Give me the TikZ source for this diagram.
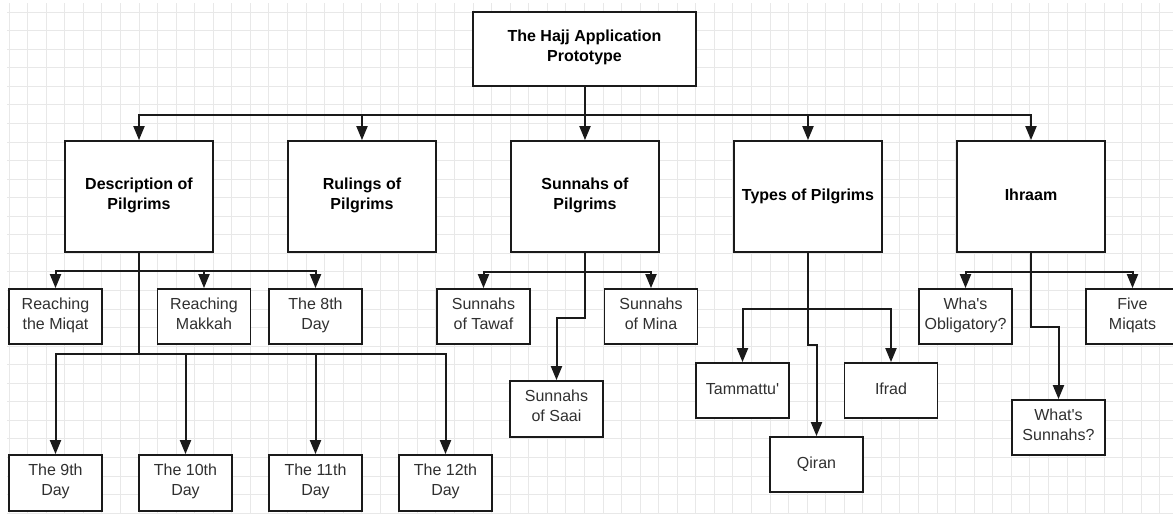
\documentclass[tikz,border=0pt]{standalone}
\usepackage{fontspec}
\setmainfont{Liberation Sans}
\newfontfamily\lib{Liberation Sans}
\usetikzlibrary{arrows.meta}
\definecolor{ink}{HTML}{1A1A1A}
\definecolor{txt}{HTML}{303030}
\definecolor{gridc}{HTML}{E8E8E8}
\begin{document}
\begin{tikzpicture}[x=1pt,y=-1pt,
  gridline/.style={draw=gridc,line width=0.8pt},
  boxbase/.style={draw=ink,line width=1.8pt,fill=white,inner sep=0pt,align=center,
    font=\lib\fontsize{16}{20}\selectfont,
    execute at begin node=\strut, execute at end node=\strut},
  bigbox/.style={boxbase,minimum width=148pt,minimum height=111pt,font=\lib\fontsize{16}{20}\selectfont\bfseries,text=black},
  rootbox/.style={boxbase,minimum width=223pt,minimum height=74pt,font=\lib\fontsize{16}{20}\selectfont\bfseries,text=black},
  smallbox/.style={boxbase,minimum width=93pt,minimum height=55pt,text=txt},
  conn/.style={draw=ink,line width=2pt},
  arr/.style={conn,-{Triangle[width=11pt,length=14pt]}}
]
\useasboundingbox (0,0) rectangle (1173,517);
\fill[white] (0,0) rectangle (1173,517);
% background grid
\foreach \i in {0,...,62} \draw[gridline] ({9+18.56*\i},3) -- ({9+18.56*\i},514);
\foreach \j in {0,...,27} \draw[gridline] (7,{12+18.56*\j}) -- (1173,{12+18.56*\j});

% nodes
\node[rootbox] (root) at (584.5,49) {The Hajj Application\\Prototype};
\node[bigbox] (desc) at (139,196.5) {Description of\\Pilgrims};
\node[bigbox] (rul) at (362,196.5) {Rulings of\\Pilgrims};
\node[bigbox] (sun) at (585,196.5) {Sunnahs of\\Pilgrims};
\node[bigbox] (typ) at (808,196.5) {Types of Pilgrims};
\node[bigbox] (ihr) at (1031,196.5) {Ihraam};

\node[smallbox] (miqat) at (55.5,316.5) {Reaching\\the Miqat};
\node[smallbox] (makkah) at (204,316.5) {Reaching\\Makkah};
\node[smallbox] (d8) at (315.5,316.5) {The 8th\\Day};
\node[smallbox,minimum height=56pt] (d9) at (55.5,483) {The 9th\\Day};
\node[smallbox,minimum height=56pt] (d10) at (185.5,483) {The 10th\\Day};
\node[smallbox,minimum height=56pt] (d11) at (315.5,483) {The 11th\\Day};
\node[smallbox,minimum height=56pt] (d12) at (445.5,483) {The 12th\\Day};

\node[smallbox] (tawaf) at (483.5,316.5) {Sunnahs\\of Tawaf};
\node[smallbox,minimum height=56pt] (saai) at (556.5,409) {Sunnahs\\of Saai};
\node[smallbox] (mina) at (651,316.5) {Sunnahs\\of Mina};

\node[smallbox] (tamm) at (742.5,390.5) {Tammattu'};
\node[smallbox] (ifrad) at (891,390.5) {Ifrad};
\node[smallbox] (qiran) at (816.5,464.5) {Qiran};

\node[smallbox] (oblig) at (965.5,316.5) {Wha's\\Obligatory?};
\node[smallbox] (five) at (1132.5,316.5) {Five\\Miqats};
\node[smallbox] (ws) at (1058.5,427.5) {What's\\Sunnahs?};

% connectors: root to level 1
\foreach \c in {desc,rul,sun,typ,ihr}
  \draw[arr] (root.south) -- ++(0,28) -| (\c.north);

% Description of Pilgrims
\foreach \c in {miqat,makkah,d8}
  \draw[arr] (desc.south) -- ++(0,18) -| (\c.north);
\foreach \c in {d9,d10,d11,d12}
  \draw[arr] (desc.south) -- ++(0,101) -| (\c.north);

% Sunnahs of Pilgrims
\foreach \c in {tawaf,mina}
  \draw[arr] (sun.south) -- ++(0,19) -| (\c.north);
\draw[arr] (sun.south) -- ++(0,65) -| (saai.north);

% Types of Pilgrims
\foreach \c in {tamm,ifrad}
  \draw[arr] (typ.south) -- ++(0,56) -| (\c.north);
\draw[arr] (typ.south) -- ++(0,92) -| (qiran.north);

% Ihraam
\foreach \c in {oblig,five}
  \draw[arr] (ihr.south) -- ++(0,19) -| (\c.north);
\draw[arr] (ihr.south) -- ++(0,74) -| (ws.north);
\end{tikzpicture}
\end{document}
